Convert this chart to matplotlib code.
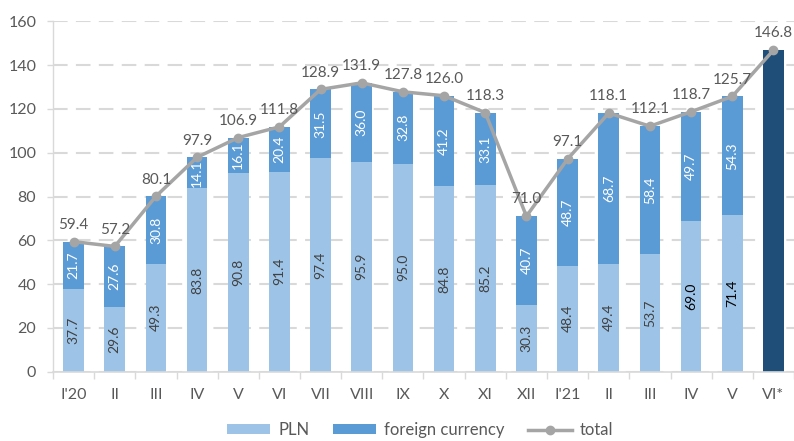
import matplotlib
matplotlib.use("Agg")
import matplotlib.pyplot as plt
import numpy as np

categories = ["I'20", "II", "III", "IV", "V", "VI", "VII", "VIII", "IX", "X", "XI", "XII",
              "I'21", "II", "III", "IV", "V", "VI*"]
pln = [37.7, 29.6, 49.3, 83.8, 90.8, 91.4, 97.4, 95.9, 95.0, 84.8, 85.2, 30.3,
       48.4, 49.4, 53.7, 69.0, 71.4]
fx = [21.7, 27.6, 30.8, 14.1, 16.1, 20.4, 31.5, 36.0, 32.8, 41.2, 33.1, 40.7,
      48.7, 68.7, 58.4, 49.7, 54.3]
total = [59.4, 57.2, 80.1, 97.9, 106.9, 111.8, 128.9, 131.9, 127.8, 126.0, 118.3, 71.0,
         97.1, 118.1, 112.1, 118.7, 125.7, 146.8]
yticks = [0, 20, 40, 60, 80, 100, 120, 140, 160]

plt.rcParams['font.family'] = ['Lato', 'DejaVu Sans']

c_pln = '#9DC3E6'
c_fx = '#5B9BD5'
c_dark = '#1F4E79'
c_line = '#A5A5A5'
c_text = '#595959'

fig = plt.figure(figsize=(7.94, 4.41), dpi=100)
ax = fig.add_axes([53/794, 69.3/441, 741/794, (441-69.3-21.3)/441])

n = len(categories)
x = np.arange(n)
xs = x[:len(pln)]
w = 0.5

ax.bar(xs, pln, w, color=c_pln, label='PLN', zorder=2)
ax.bar(xs, fx, w, bottom=pln, color=c_fx, label='foreign currency', zorder=2)
ax.bar(x[-1], total[-1], w, color=c_dark, zorder=2)
ax.plot(x, total, color=c_line, lw=2.5, marker='o', ms=6, label='total', zorder=3)

for i in range(len(pln)):
    col = 'black' if i >= 15 else '#404040'
    ax.text(xs[i], pln[i] / 2, f"{pln[i]:.1f}", rotation=90, ha='center', va='center',
            fontsize=10, color=col, zorder=4)
    ax.text(xs[i], pln[i] + fx[i] / 2, f"{fx[i]:.1f}", rotation=90, ha='center', va='center',
            fontsize=10, color='white', zorder=4)
for i in range(n):
    ax.annotate(f"{total[i]:.1f}", (x[i], total[i]), xytext=(0, 7), textcoords='offset points',
                ha='center', va='bottom', fontsize=11, color=c_text, zorder=5)

ax.set_xlim(-0.5, n - 0.5)
ax.set_ylim(0, 160)
ax.set_yticks(yticks)
ax.set_xticks(x)
ax.set_xticklabels(categories)
ax.set_xticks(np.arange(-0.5, n, 1), minor=True)
ax.tick_params(axis='x', which='major', length=0, pad=12, labelsize=11.5, labelcolor=c_text)
ax.tick_params(axis='x', which='minor', length=5, color='#D9D9D9', width=1)
ax.tick_params(axis='y', length=4, color='#D9D9D9', width=1, pad=8, labelsize=11.5, labelcolor=c_text)

ax.grid(axis='y', color='#D9D9D9', lw=1.5, ls=(0, (7, 4)), zorder=0)
ax.set_axisbelow(True)
for s in ['top', 'right']:
    ax.spines[s].set_visible(False)
ax.spines['left'].set_color('#D9D9D9')
ax.spines['bottom'].set_color('#D9D9D9')
ax.spines['left'].set_linewidth(1)
ax.spines['bottom'].set_linewidth(1.2)

h, l = ax.get_legend_handles_labels()
order = [1, 2, 0]
fig.legend([h[k] for k in order], [l[k] for k in order], loc='center',
           bbox_to_anchor=(420/794, 1 - 430/441), ncol=3, frameon=False,
           fontsize=12, labelcolor=c_text, handlelength=2.6, handleheight=0.5,
           columnspacing=1.4, handletextpad=0.5, borderpad=0.2)

fig.savefig('out.png', dpi=100)
